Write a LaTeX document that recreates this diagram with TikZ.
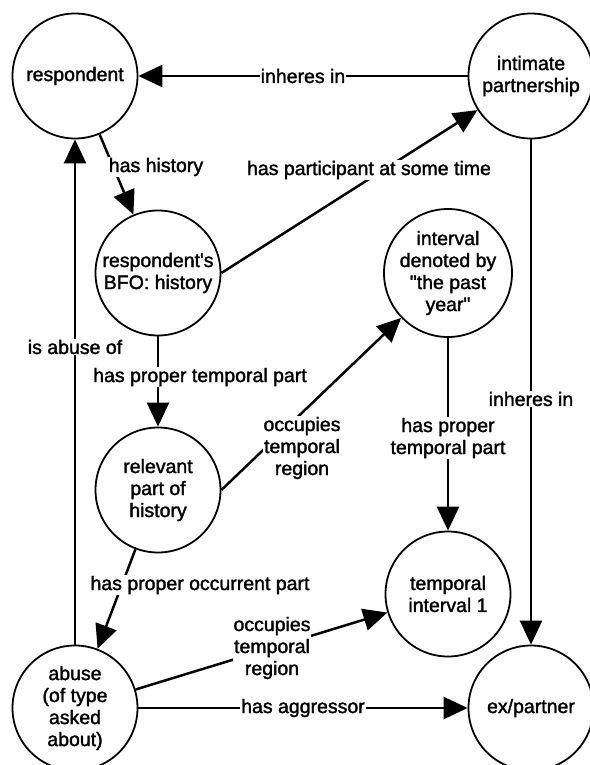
\documentclass[tikz,border=0pt]{standalone}
\usepackage{fontspec}
\setmainfont{Liberation Sans}
\newfontfamily\diafont{Liberation Sans}[FakeBold=1.6]
\usetikzlibrary{arrows.meta}
\begin{document}
\begin{tikzpicture}[x=1pt,y=-1pt,
  ent/.style={circle,draw,line width=1.8pt,minimum size=125pt,inner sep=0pt,align=center,font=\diafont\fontsize{19.5}{22}\selectfont},
  rel/.style={line width=2.5pt,-{Triangle[length=24pt,width=22pt]}},
  lbl/.style={fill=white,inner sep=1pt,align=center,font=\diafont\fontsize{19.5}{22}\selectfont}]
\useasboundingbox (0,0) rectangle (589,765);
\fill[white] (0,0) rectangle (589,765);

\node[ent] (resp) at (75,76) {respondent};
\node[ent] (ip) at (531,76) {intimate\\partnership};
\node[ent] (bfo) at (158,273) {respondent\textquotesingle s\\BFO: history};
\node[ent] (int) at (448,273) {interval\\denoted by\\\textquotedbl the past\\year\textquotedbl};
\node[ent] (relp) at (158,490) {relevant\\part of\\history};
\node[ent] (ti) at (448,594) {temporal\\interval 1};
\node[ent] (abuse) at (75,708) {abuse\\(of type\\asked\\about)};
\node[ent] (exp) at (531,708) {ex/partner};

\draw[rel] (ip) -- (resp);
\draw[rel] (resp) -- (bfo);
\draw[rel] (bfo.east) -- (ip);
\draw[rel] (abuse) -- (resp);
\draw[rel] (bfo) -- (relp);
\draw[rel] (relp.east) -- (int);
\draw[rel] (int) -- (ti);
\draw[rel] (ip) -- (exp);
\draw[rel] (relp) -- (abuse);
\draw[rel] (abuse) -- (ti);
\draw[rel] (abuse) -- (exp);

\node[lbl] (l1) at (303,76) {inheres in};
\node[lbl] (l2) at (156,167) {has history};
\node[lbl] (l3) at (369,170) {has participant at some time};
\node[lbl] (l4) at (75,347) {is abuse of};
\node[lbl] (l5) at (200,377) {has proper temporal part};
\node[lbl] (l6) at (302,448) {occupies\\temporal\\region};
\node[lbl] (l7) at (448,438) {has proper\\temporal part};
\node[lbl] (l8) at (531,399) {inheres in};
\node[lbl] (l9) at (200,585) {has proper occurrent part};
\node[lbl] (l10) at (272,648) {occupies\\temporal\\region};
\node[lbl] (l11) at (303,708) {has aggressor};
\end{tikzpicture}
\end{document}
